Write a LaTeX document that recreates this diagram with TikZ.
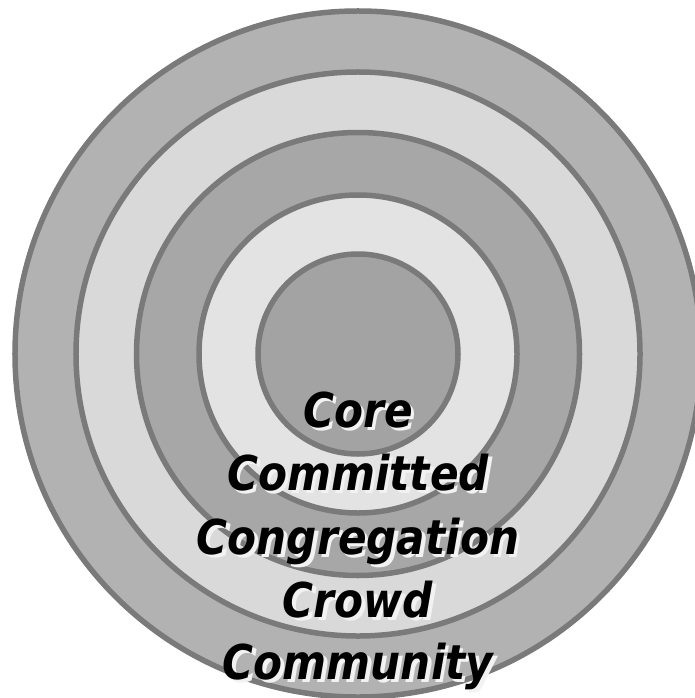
\documentclass[tikz,border=0pt]{standalone}
\usepackage{fontspec}
\newfontfamily\lblfont[FakeStretch=0.88]{DejaVu Sans}
\definecolor{ringline}{HTML}{7A7A7A}
\definecolor{fillA}{HTML}{B2B2B2}
\definecolor{fillB}{HTML}{D9D9D9}
\definecolor{fillC}{HTML}{A7A7A7}
\definecolor{fillD}{HTML}{E3E3E3}
\definecolor{fillE}{HTML}{A3A3A3}
\definecolor{shadowc}{HTML}{F2F2F2}
\newcommand{\shadowed}[1]{\makebox[0pt][l]{\kern3.5bp\raisebox{-3bp}{\textcolor{shadowc}{#1}}}#1}
\begin{document}
\begin{tikzpicture}[x=1bp,y=-1bp,
  ring/.style={circle,draw=ringline,line width=5.5bp,inner sep=0pt,minimum size=#1},
  lbl/.style={anchor=base,inner sep=0pt,font=\lblfont\bfseries\itshape\fontsize{48bp}{48bp}\selectfont,text=black}]
\useasboundingbox (0,0) rectangle (695,698);
\clip (0,0) rectangle (695,698);
\fill[white] (0,0) rectangle (695,698);
\node[ring=686bp,fill=fillA] (r5) at (358,354) {};
\node[ring=564bp,fill=fillB] (r4) at (358,354) {};
\node[ring=443bp,fill=fillC] (r3) at (358,354) {};
\node[ring=318bp,fill=fillD] (r2) at (358,354) {};
\node[ring=200bp,fill=fillE] (r1) at (358,354) {};
\node[lbl] (t1) at (358,427) {\shadowed{Core}};
\node[lbl] (t2) at (358,490) {\shadowed{Committed}};
\node[lbl] (t3) at (358,554) {\shadowed{Congregation}};
\node[lbl] (t4) at (358,617) {\shadowed{Crowd}};
\node[lbl] (t5) at (358,679) {\shadowed{Community}};
\end{tikzpicture}
\end{document}
